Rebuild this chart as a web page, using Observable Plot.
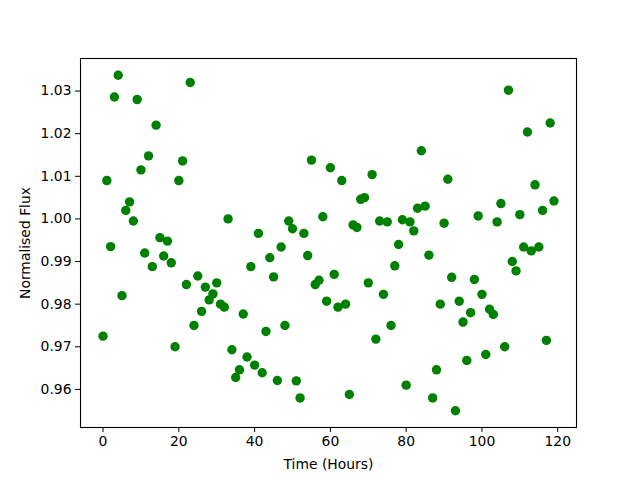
<!DOCTYPE html>
<html>
<head>
<meta charset="utf-8">
<script src="https://cdn.jsdelivr.net/npm/d3@7"></script>
<script src="https://cdn.jsdelivr.net/npm/@observablehq/plot@0.6"></script>
<style>
  html, body { margin: 0; padding: 0; background: #fff; }
</style>
</head>
<body>
<div id="chart"></div>
<script>
const hours = d3.range(0, 120);
const flux = [
  0.9725, 1.0090, 0.9935, 1.0286, 1.0337, 0.9820, 1.0020, 1.0040, 0.9995, 1.0280,
  1.0115, 0.9920, 1.0148, 0.9888, 1.0220, 0.9956, 0.9913, 0.9948, 0.9897, 0.9700,
  1.0090, 1.0136, 0.9846, 1.0320, 0.9750, 0.9866, 0.9783, 0.9840, 0.9810, 0.9824,
  0.9850, 0.9800, 0.9793, 1.0000, 0.9693, 0.9628, 0.9646, 0.9777, 0.9676, 0.9888,
  0.9657, 0.9966, 0.9639, 0.9736, 0.9909, 0.9864, 0.9621, 0.9934, 0.9750, 0.9995,
  0.9977, 0.9620, 0.9580, 0.9966, 0.9914, 1.0138, 0.9846, 0.9856, 1.0005, 0.9807,
  1.0120, 0.9870, 0.9793, 1.0090, 0.9800, 0.9588, 0.9986, 0.9980, 1.0046, 1.0050,
  0.9850, 1.0104, 0.9718, 0.9995, 0.9823, 0.9993, 0.9750, 0.9890, 0.9940, 0.9998,
  0.9610, 0.9993, 0.9972, 1.0025, 1.0160, 1.0030, 0.9915, 0.9580, 0.9646, 0.9800,
  0.9990, 1.0093, 0.9863, 0.9550, 0.9807, 0.9758, 0.9668, 0.9780, 0.9858, 1.0007,
  0.9823, 0.9682, 0.9788, 0.9776, 0.9993, 1.0036, 0.9700, 1.0302, 0.9900, 0.9878,
  1.0010, 0.9934, 1.0204, 0.9925, 1.0080, 0.9934, 1.0020, 0.9715, 1.0225, 1.0042
];
const xTicks = [0, 20, 40, 60, 80, 100, 120];
const yTicks = [0.96, 0.97, 0.98, 0.99, 1.00, 1.01, 1.02, 1.03];

const data = hours.map((h, i) => ({hour: h, flux: flux[i]}));

const xMin = d3.min(hours), xMax = d3.max(hours);
const yMin = d3.min(flux), yMax = d3.max(flux);
const xPad = (xMax - xMin) * 0.05, yPad = (yMax - yMin) * 0.05;

const chart = Plot.plot({
  width: 640,
  height: 480,
  marginLeft: 80,
  marginRight: 64,
  marginTop: 58,
  marginBottom: 53,
  style: {fontFamily: "DejaVu Sans", fontSize: "13.9px", color: "black", background: "white"},
  x: {domain: [xMin - xPad, xMax + xPad]},
  y: {domain: [yMin - yPad, yMax + yPad]},
  marks: [
    Plot.dot(data, {x: "hour", y: "flux", r: 4.7, fill: "green", stroke: "none"}),
    Plot.frame({stroke: "black", strokeWidth: 1.1}),
    Plot.axisX(xTicks, {tickSize: 5, tickPadding: 4, label: "Time (Hours)", labelArrow: "none", labelAnchor: "center", labelOffset: 41}),
    Plot.axisY(yTicks, {tickSize: 5, tickPadding: 4, tickFormat: d3.format(".2f"), label: "Normalised Flux", labelArrow: "none", labelAnchor: "center", labelOffset: 60})
  ]
});
document.getElementById("chart").appendChild(chart);
</script>
</body>
</html>
